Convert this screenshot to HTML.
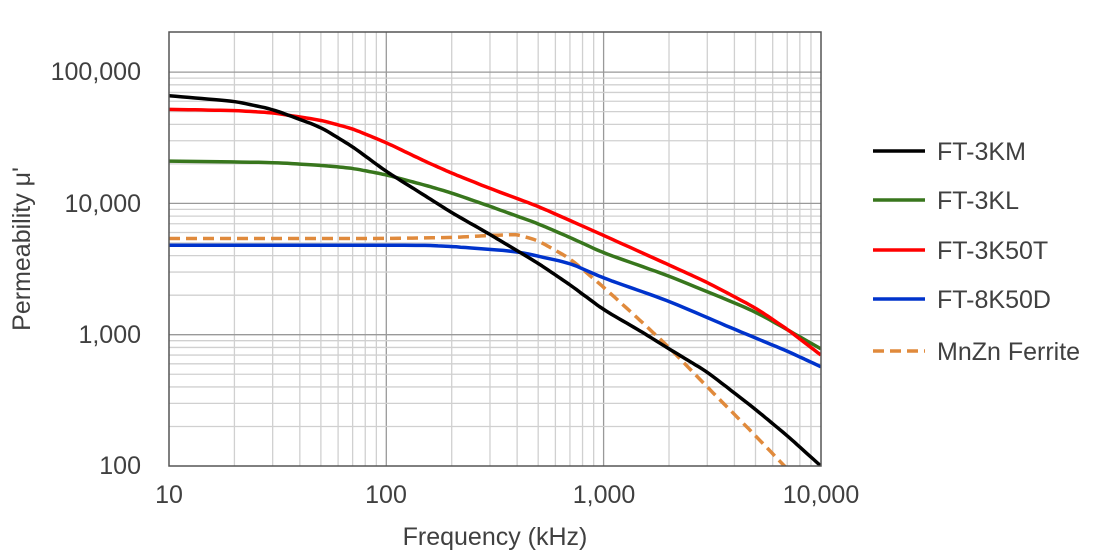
<!DOCTYPE html><html><head><meta charset="utf-8"><style>body{margin:0;background:#fff}svg{display:block}text{font-family:"Liberation Sans",Arial,sans-serif;fill:#404040}</style></head><body>
<svg id="s" width="1093" height="555" xmlns="http://www.w3.org/2000/svg">
<defs><clipPath id="c"><rect x="169" y="32" width="652" height="434"/></clipPath></defs>
<g id="grid"></g>
<g id="curves" clip-path="url(#c)"></g>
<rect x="169" y="32" width="652" height="434" fill="none" stroke="#555" stroke-width="1.5"/>
<g font-size="25" text-anchor="end">
<text x="141" y="80">100,000</text><text x="141" y="212">10,000</text><text x="141" y="343">1,000</text><text x="141" y="474">100</text></g>
<g font-size="25" text-anchor="middle">
<text x="169" y="503">10</text><text x="386" y="503">100</text><text x="604" y="503">1,000</text><text x="821" y="503">10,000</text>
<text x="495" y="545">Frequency (kHz)</text>
<text transform="translate(30,249) rotate(-90)">Permeability μ'</text></g>
<g font-size="25">
<line x1="873" y1="151" x2="925" y2="151" stroke="#000" stroke-width="3.5"/><text x="937" y="160">FT-3KM</text>
<line x1="873" y1="200" x2="925" y2="200" stroke="#38761d" stroke-width="3.5"/><text x="937" y="209">FT-3KL</text>
<line x1="873" y1="250" x2="925" y2="250" stroke="#f00" stroke-width="3.5"/><text x="937" y="259">FT-3K50T</text>
<line x1="873" y1="299" x2="925" y2="299" stroke="#0033cc" stroke-width="3.5"/><text x="937" y="308">FT-8K50D</text>
<line x1="873" y1="351" x2="925" y2="351" stroke="#e08a3c" stroke-width="3.5" stroke-dasharray="11,6"/><text x="937" y="360">MnZn Ferrite</text>
</g>
</svg>
<script>
var X=f=>169+(Math.log10(f)-1)*217.3, Y=v=>466-(Math.log10(v)-2)*131.3;
var g='';
for(var d=1;d<=3;d++)for(var k=1;k<=9;k++){var f=Math.pow(10,d)*k;if(k>1||d>1){var x=X(f);g+='<line x1="'+x+'" y1="32" x2="'+x+'" y2="466" stroke="'+(k==1?'#999':'#d0d0d0')+'" stroke-width="1.3"/>';}}
for(var d=2;d<=4;d++)for(var k=1;k<=9;k++){var v=Math.pow(10,d)*k;if(k>1||d>2){var y=Y(v);g+='<line x1="169" y1="'+y+'" x2="821" y2="'+y+'" stroke="'+(k==1?'#999':'#d0d0d0')+'" stroke-width="1.3"/>';}}
g+='<line x1="169" y1="'+Y(1e5)+'" x2="821" y2="'+Y(1e5)+'" stroke="#999" stroke-width="1.3"/>';
document.getElementById('grid').innerHTML=g;
var S=[
["#e08a3c",[[10,5400],[100,5400],[200,5500],[300,5700],[400,5800],[500,5200],[700,3800],[1000,2300],[1500,1250],[2000,800],[3000,400],[5000,170],[7000,95]],1],
["#38761d",[[10,21000],[30,20500],[50,19500],[70,18500],[100,16500],[150,13800],[200,12000],[300,9500],[500,7000],[700,5500],[1000,4200],[2000,2800],[5000,1500],[10000,780]]],
["#0033cc",[[10,4800],[150,4800],[200,4700],[400,4300],[700,3500],[1000,2700],[2000,1800],[4000,1100],[7000,750],[10000,570]]],
["#f00",[[10,52000],[20,51000],[30,49000],[50,43000],[70,37000],[100,29000],[150,21000],[200,17000],[300,13000],[500,9500],[1000,5700],[2000,3400],[3000,2500],[5000,1600],[7000,1100],[10000,700]]],
["#000",[[10,66000],[20,60000],[30,52000],[50,38000],[70,27000],[100,17500],[150,11500],[200,8500],[300,5800],[500,3500],[700,2400],[1000,1550],[1500,1050],[2000,780],[3000,520],[5000,270],[7000,170],[10000,100]]]];
function interp(pts){var out=[];for(var i=0;i<pts.length-1;i++){var a=pts[i],b=pts[i+1];for(var t=0;t<1;t+=0.1){out.push([Math.pow(10,Math.log10(a[0])*(1-t)+Math.log10(b[0])*t),Math.pow(10,Math.log10(a[1])*(1-t)+Math.log10(b[1])*t)]);}}out.push(pts[pts.length-1]);
// smooth
var sm=out.map((p,i)=>{if(i<3||i>out.length-4)return p;var lx=0,ly=0;for(var j=-3;j<=3;j++){lx+=Math.log10(out[i+j][0]);ly+=Math.log10(out[i+j][1]);}return[Math.pow(10,lx/7),Math.pow(10,ly/7)];});return sm;}
var c='';
S.forEach(function(s){var p=interp(s[1]).map(q=>X(q[0]).toFixed(1)+','+Y(q[1]).toFixed(1)).join(' ');
c+='<polyline points="'+p+'" fill="none" stroke="'+s[0]+'" stroke-width="3.5" stroke-linejoin="round"'+(s[2]?' stroke-dasharray="11,6"':'')+'/>';});
document.getElementById('curves').innerHTML=c;
</script>
</body></html>
